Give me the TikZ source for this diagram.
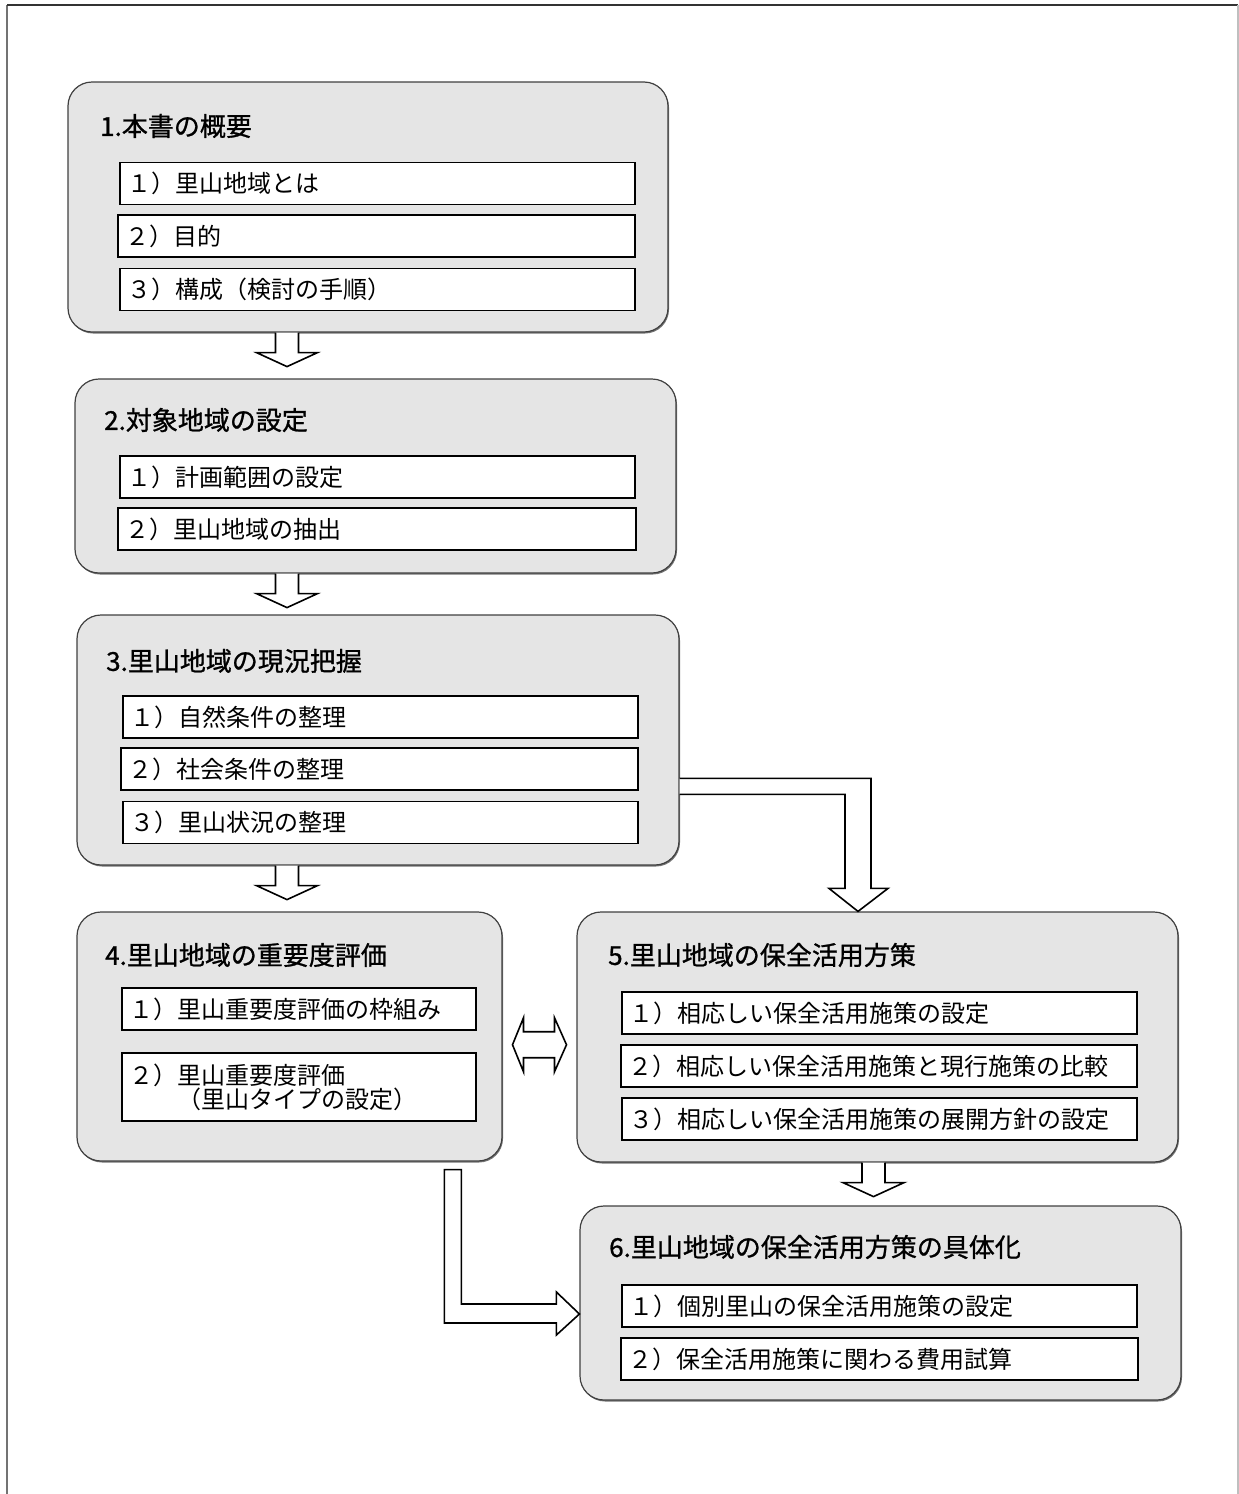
\documentclass[tikz,border=0pt]{standalone}
\usepackage{fontspec}
\setmainfont{Noto Sans CJK JP}
\newfontfamily\headfont[FakeBold=1]{Noto Sans CJK JP}
\usetikzlibrary{calc,shadows}

\newcommand{\blockdown}[3]{%
  \draw[blockarrow] let \p1=(#2,0 |- #1.south) in
    (\x1-11.5pt,\y1) -- (\x1-11.5pt,\y1-20pt) -- (\x1-30.5pt,\y1-20pt) -- (\x1,\y1-#3)
    -- (\x1+30.5pt,\y1-20pt) -- (\x1+11.5pt,\y1-20pt) -- (\x1+11.5pt,\y1);}

\begin{document}
\begin{tikzpicture}[x=1pt, y=-1pt,
  stage/.style={draw=black!75, line width=1.2pt, fill=gray!20, rounded corners=24pt, inner sep=0pt,
    drop shadow={shadow xshift=1pt, shadow yshift=-1.5pt, fill=black!55, opacity=1}},
  item/.style={draw, line width=1.2pt, fill=white, inner xsep=7pt, inner ysep=0pt,
    minimum height=42pt, text width=#1, align=left, font=\fontsize{24}{24}\selectfont},
  item/.default=501pt,
  head/.style={anchor=west, inner sep=0pt, font=\fontsize{26}{28}\selectfont\headfont},
  blockarrow/.style={draw, line width=1.6pt, fill=white, line join=miter}]

\useasboundingbox (0,0) rectangle (1239,1494);

\draw[black!55, line width=1.2pt] (7,1494) -- (7,5);
\draw[black!80, line width=1.5pt] (7,5) -- (1238,5);
\draw[black!25, line width=1.5pt] (1238,5) -- (1238,1494);

\node[stage, minimum width=600pt, minimum height=250pt] (b1) at (368,207) {};
\node[stage, minimum width=601pt, minimum height=194pt] (b2) at (375.5,476) {};
\node[stage, minimum width=602pt, minimum height=250pt] (b3) at (378,740) {};
\node[stage, minimum width=425pt, minimum height=249pt] (b4) at (289.5,1036.5) {};
\node[stage, minimum width=601pt, minimum height=250pt] (b5) at (877.5,1037) {};
\node[stage, minimum width=601pt, minimum height=194pt] (b6) at (880.5,1303) {};

\node[head] (h1) at (100,126) {1.本書の概要};
\node[item] (s11) at (377.5,183.5) {１）里山地域とは};
\node[item=503pt] (s12) at (376.5,236) {２）目的};
\node[item] (s13) at (377.5,289.5) {３）構成（検討の手順）};

\node[head] (h2) at (104,420) {2.対象地域の設定};
\node[item] (s21) at (377.5,477) {１）計画範囲の設定};
\node[item=504pt] (s22) at (377,529) {２）里山地域の抽出};

\node[head] (h3) at (106,661) {3.里山地域の現況把握};
\node[item] (s31) at (380.5,717) {１）自然条件の整理};
\node[item=503pt] (s32) at (379.5,769) {２）社会条件の整理};
\node[item] (s33) at (380.5,822.5) {３）里山状況の整理};

\node[head] (h4) at (105,955) {4.里山地域の重要度評価};
\node[item=340pt] (s41) at (299,1009) {１）里山重要度評価の枠組み};
\node[item=340pt, minimum height=68pt] (s42) at (299,1087) {２）里山重要度評価\\　　（里山タイプの設定）};

\node[head] (h5) at (608,955) {5.里山地域の保全活用方策};
\node[item] (s51) at (879.5,1013) {１）相応しい保全活用施策の設定};
\node[item=502pt] (s52) at (879,1066) {２）相応しい保全活用施策と現行施策の比較};
\node[item] (s53) at (879.5,1119) {３）相応しい保全活用施策の展開方針の設定};

\node[head] (h6) at (609,1247) {6.里山地域の保全活用方策の具体化};
\node[item] (s61) at (879.5,1306) {１）個別里山の保全活用施策の設定};
\node[item=503pt] (s62) at (879.5,1359) {２）保全活用施策に関わる費用試算};

\blockdown{b1}{287}{34pt}
\blockdown{b2}{287}{34pt}
\blockdown{b3}{287}{34pt}
\blockdown{b5}{873.5}{34pt}

\draw[blockarrow] let \p1=(b3.east), \p2=(858,0 |- b5.north) in
  (\x1,\y2+133pt) -- (\x2+13pt,\y2+133pt) -- (\x2+13pt,\y2+23pt) -- (\x2+30pt,\y2+23pt) -- (\p2)
  -- (\x2-29pt,\y2+23pt) -- (\x2-13pt,\y2+23pt) -- (\x2-13pt,\y2+117pt) -- (\x1,\y2+117pt);

\draw[blockarrow] let \p1=(b4.south), \p2=(b6.west |- 0,1314) in
  (\x2-135pt,\y1-8pt) -- (\x2-118pt,\y1-8pt) -- (\x2-118pt,\y2+10pt) -- (\x2-23pt,\y2+10pt)
  -- (\x2-23pt,\y2+22pt) -- (\p2) -- (\x2-23pt,\y2-21pt) -- (\x2-23pt,\y2-9pt)
  -- (\x2-135pt,\y2-9pt) -- cycle;

\draw[blockarrow] let \p1=($(b4.east)!0.5!(b5.west)+(0,8)$) in
  (\x1-27pt,\y1) -- (\x1-16pt,\y1+27pt) -- (\x1-16pt,\y1+13pt) -- (\x1+15pt,\y1+13pt)
  -- (\x1+15pt,\y1+27pt) -- (\x1+27pt,\y1) -- (\x1+15pt,\y1-27pt) -- (\x1+15pt,\y1-13pt)
  -- (\x1-16pt,\y1-13pt) -- (\x1-16pt,\y1-27pt) -- cycle;
\end{tikzpicture}
\end{document}
